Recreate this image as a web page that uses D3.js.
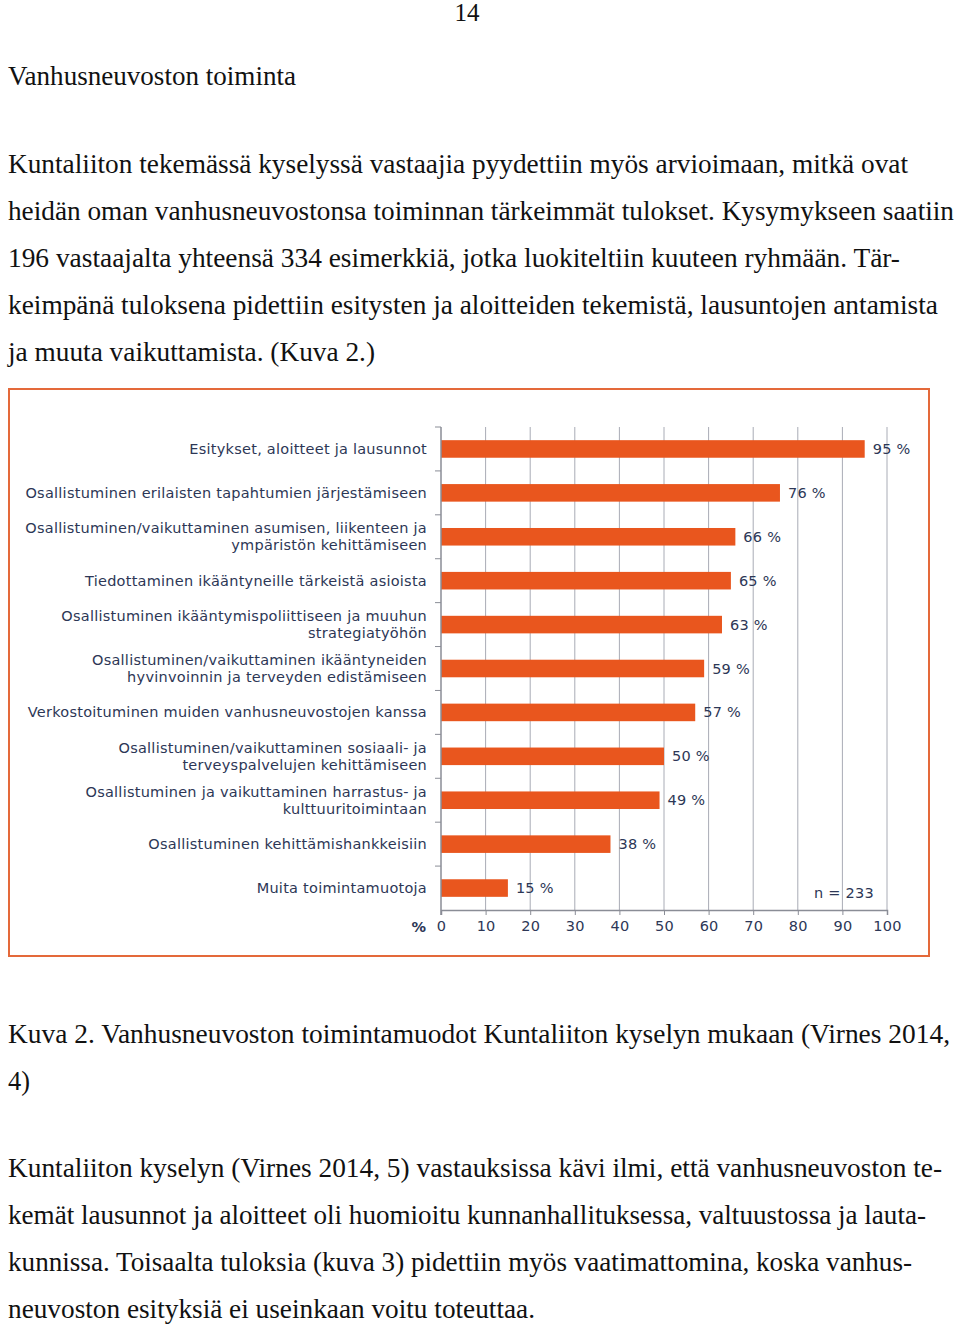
<!DOCTYPE html>
<html>
<head>
<meta charset="utf-8">
<script src="https://cdn.jsdelivr.net/npm/d3@7"></script>
<style>
  html, body { margin: 0; padding: 0; background: #fff; }
  svg { display: block; }
</style>
</head>
<body>
<svg id="page" width="960" height="1327"></svg>
<script>
// ---------- data ----------
const categories = [
  "Esitykset, aloitteet ja lausunnot",
  "Osallistuminen erilaisten tapahtumien järjestämiseen",
  "Osallistuminen/vaikuttaminen asumisen, liikenteen ja\nympäristön kehittämiseen",
  "Tiedottaminen ikääntyneille tärkeistä asioista",
  "Osallistuminen ikääntymispoliittiseen ja muuhun\nstrategiatyöhön",
  "Osallistuminen/vaikuttaminen ikääntyneiden\nhyvinvoinnin ja terveyden edistämiseen",
  "Verkostoituminen muiden vanhusneuvostojen kanssa",
  "Osallistuminen/vaikuttaminen sosiaali- ja\nterveyspalvelujen kehittämiseen",
  "Osallistuminen ja vaikuttaminen harrastus- ja\nkulttuuritoimintaan",
  "Osallistuminen kehittämishankkeisiin",
  "Muita toimintamuotoja"
];
const values = [95, 76, 66, 65, 63, 59, 57, 50, 49, 38, 15];
const xTicks = [0, 10, 20, 30, 40, 50, 60, 70, 80, 90, 100];
const nLabel = "n = 233";
const unitLabel = "%";

const pageNumber = "14";
const heading = "Vanhusneuvoston toiminta";
const paragraph1 = [
  "Kuntaliiton tekemässä kyselyssä vastaajia pyydettiin myös arvioimaan, mitkä ovat",
  "heidän oman vanhusneuvostonsa toiminnan tärkeimmät tulokset. Kysymykseen saatiin",
  "196 vastaajalta yhteensä 334 esimerkkiä, jotka luokiteltiin kuuteen ryhmään. Tär-",
  "keimpänä tuloksena pidettiin esitysten ja aloitteiden tekemistä, lausuntojen antamista",
  "ja muuta vaikuttamista. (Kuva 2.)"
];
const caption = [
  "Kuva 2. Vanhusneuvoston toimintamuodot Kuntaliiton kyselyn mukaan (Virnes 2014,",
  "4)"
];
const paragraph2 = [
  "Kuntaliiton kyselyn (Virnes 2014, 5) vastauksissa kävi ilmi, että vanhusneuvoston te-",
  "kemät lausunnot ja aloitteet oli huomioitu kunnanhallituksessa, valtuustossa ja lauta-",
  "kunnissa. Toisaalta tuloksia (kuva 3) pidettiin myös vaatimattomina, koska vanhus-",
  "neuvoston esityksiä ei useinkaan voitu toteuttaa."
];

// ---------- page text ----------
const svg = d3.select("#page");
svg.append("rect").attr("width", 960).attr("height", 1327).attr("fill", "#fff");

const serif = "'Liberation Serif', 'Times New Roman', serif";
const textColor = "#111";
const bodySize = 26.5;

function fit(sel, width) {
  sel.attr("textLength", width).attr("lengthAdjust", "spacingAndGlyphs");
}

svg.append("text")
  .attr("x", 467).attr("y", 21)
  .attr("text-anchor", "middle")
  .attr("font-family", serif).attr("font-size", 25)
  .attr("fill", textColor)
  .text(pageNumber);

svg.append("text")
  .attr("x", 8).attr("y", 85)
  .attr("font-family", serif).attr("font-size", bodySize)
  .attr("fill", textColor)
  .text(heading)
  .call(fit, 288);

function block(lines, y0, widths) {
  lines.forEach((t, i) => {
    svg.append("text")
      .attr("x", 8).attr("y", y0 + i * 47)
      .attr("font-family", serif).attr("font-size", bodySize)
      .attr("fill", textColor)
      .text(t)
      .call(fit, widths[i]);
  });
}
block(paragraph1, 173, [900, 946, 892, 930, 367]);
block(caption, 1043, [942, 22]);
block(paragraph2, 1177, [934, 918, 904, 527]);

// ---------- chart ----------
const frame = { x: 9, y: 389, w: 920, h: 567 };
svg.append("rect")
  .attr("x", frame.x).attr("y", frame.y)
  .attr("width", frame.w).attr("height", frame.h)
  .attr("fill", "#fff")
  .attr("stroke", "#e4693a").attr("stroke-width", 2);

const plot = { left: 441, right: 887, top: 427, bottom: 910 };
const sans = "'DejaVu Sans', Verdana, sans-serif";
const labelColor = "#2d3756";
const chartFont = 14.5;
const chartSpacing = 0.25;

const x = d3.scaleLinear().domain([0, 100]).range([plot.left, plot.right]);
const y = d3.scaleBand().domain(categories).range([plot.top, plot.bottom]).paddingInner(0.6).paddingOuter(0.3);
const yBand = d3.scaleBand().domain(categories).range([plot.top, plot.bottom]);

const g = svg.append("g");

// gridlines
g.append("g").selectAll("line")
  .data(xTicks.filter(d => d > 0))
  .join("line")
  .attr("x1", d => x(d)).attr("x2", d => x(d))
  .attr("y1", plot.top).attr("y2", plot.bottom)
  .attr("stroke", "#a9acb6").attr("stroke-width", 1);

// bars
g.append("g").selectAll("rect")
  .data(values)
  .join("rect")
  .attr("x", x(0))
  .attr("y", (d, i) => y(categories[i]))
  .attr("width", d => x(d) - x(0))
  .attr("height", y.bandwidth())
  .attr("fill", "#e9561e");

// value labels
g.append("g").selectAll("text")
  .data(values)
  .join("text")
  .attr("x", d => x(d) + 8)
  .attr("y", (d, i) => y(categories[i]) + y.bandwidth() / 2)
  .attr("dy", "0.35em")
  .attr("font-family", sans).attr("font-size", chartFont)
  .attr("letter-spacing", chartSpacing)
  .attr("fill", labelColor)
  .text(d => d + " %");

// x axis
const xAxis = g.append("g")
  .attr("transform", `translate(0,${plot.bottom})`)
  .call(d3.axisBottom(x).tickValues(xTicks).tickSize(5).tickPadding(6).tickFormat(d3.format("d")));
xAxis.select(".domain").attr("stroke", "#8a8d96").attr("stroke-width", 1.5);
xAxis.selectAll(".tick line").attr("stroke", "#8a8d96");
xAxis.selectAll(".tick text")
  .attr("font-family", sans).attr("font-size", chartFont)
  .attr("letter-spacing", chartSpacing).attr("fill", labelColor);

g.append("text")
  .attr("x", 426).attr("y", plot.bottom + 17)
  .attr("dy", "0.35em")
  .attr("text-anchor", "end")
  .attr("font-family", sans).attr("font-size", chartFont).attr("font-weight", "bold")
  .attr("fill", labelColor)
  .text(unitLabel);

// y axis
const yAxis = g.append("g")
  .attr("transform", `translate(${plot.left},0)`);
yAxis.append("line")
  .attr("x1", 0).attr("x2", 0)
  .attr("y1", plot.top).attr("y2", plot.bottom + 5)
  .attr("stroke", "#8a8d96").attr("stroke-width", 1.5);
yAxis.selectAll("line.tk")
  .data(categories)
  .join("line")
  .attr("class", "tk")
  .attr("x1", -6).attr("x2", 0)
  .attr("y1", d => yBand(d)).attr("y2", d => yBand(d))
  .attr("stroke", "#8a8d96");

// category labels
const lab = g.append("g").selectAll("text")
  .data(categories)
  .join("text")
  .attr("text-anchor", "end")
  .attr("font-family", sans).attr("font-size", chartFont)
  .attr("letter-spacing", chartSpacing)
  .attr("fill", labelColor);
lab.each(function(d) {
  const lines = d.split("\n");
  const cy = yBand(d) + yBand.bandwidth() / 2;
  const lh = 17;
  const t = d3.select(this);
  lines.forEach((ln, i) => {
    t.append("tspan")
      .attr("x", 427)
      .attr("y", cy + (i - (lines.length - 1) / 2) * lh)
      .attr("dy", "0.35em")
      .text(ln);
  });
});

// n label
g.append("text")
  .attr("x", 874).attr("y", 893)
  .attr("dy", "0.35em")
  .attr("text-anchor", "end")
  .attr("font-family", sans).attr("font-size", chartFont)
  .attr("letter-spacing", chartSpacing)
  .attr("fill", labelColor)
  .text(nLabel);
</script>
</body>
</html>
